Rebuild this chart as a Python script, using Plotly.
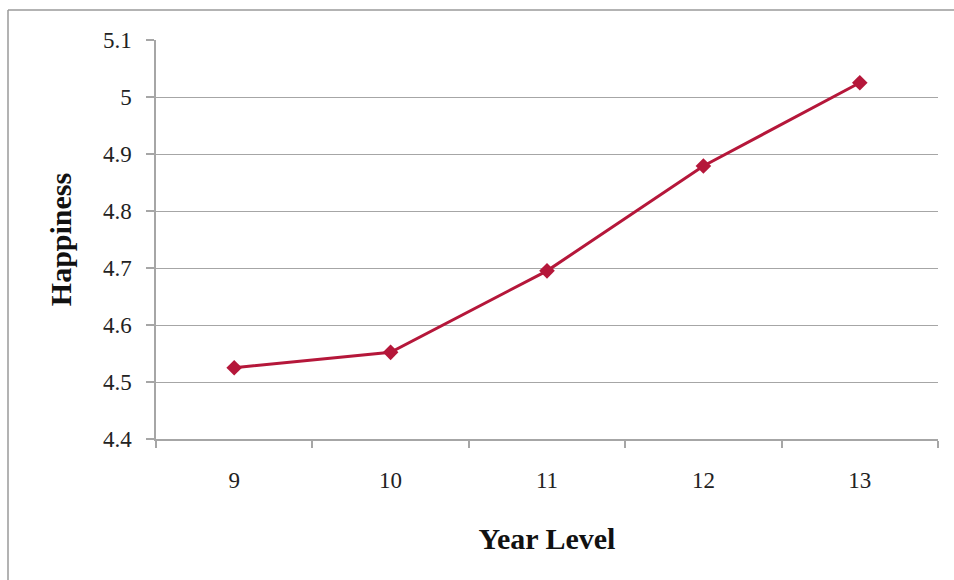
import plotly.graph_objects as go

years = ["9", "10", "11", "12", "13"]
happiness = [4.525, 4.552, 4.695, 4.879, 5.025]
y_ticks = [4.4, 4.5, 4.6, 4.7, 4.8, 4.9, 5.0, 5.1]
y_tick_labels = ["4.4", "4.5", "4.6", "4.7", "4.8", "4.9", "5", "5.1"]

W, H = 954, 580
L, R, T, B = 156, 938, 40, 439

fig = go.Figure()
fig.add_trace(go.Scatter(
    x=years, y=happiness, mode="lines+markers",
    line=dict(color="#B5173A", width=3),
    marker=dict(symbol="diamond", size=12, color="#B5173A"),
    showlegend=False,
))

font_family = "Liberation Serif"
grey = "#A6A6A6"

def px_x(p):
    return (p - L) / (R - L)

def px_y(p):
    return (B - p) / (B - T)

fig.update_layout(
    width=W, height=H,
    margin=dict(l=L, r=W - R, t=T, b=H - B),
    paper_bgcolor="white", plot_bgcolor="white",
    font=dict(family=font_family, size=23, color="#222222"),
    xaxis=dict(
        type="category",
        range=[-0.5, 4.5],
        showline=True, linecolor=grey, linewidth=1.5,
        ticks="outside", tickson="boundaries", ticklen=7, tickcolor=grey, tickwidth=1.5,
        showgrid=False,
        title=dict(text="<b>Year Level</b>", font=dict(size=30, family=font_family, color="#111111"), standoff=36),
        ticklabelstandoff=20,
    ),
    yaxis=dict(
        range=[4.4, 5.1],
        tickvals=y_ticks, ticktext=y_tick_labels,
        showline=True, linecolor=grey, linewidth=1.5,
        ticks="outside", ticklen=8, tickcolor=grey, tickwidth=1.5,
        showgrid=True, gridcolor=grey, gridwidth=1.2,
        zeroline=False,
        title=dict(text="<b>Happiness</b>", font=dict(size=30, family=font_family, color="#111111"), standoff=22),
        ticklabelstandoff=10,
    ),
    shapes=[
        dict(type="line", xref="paper", yref="paper",
             x0=px_x(8), y0=px_y(H + 5), x1=px_x(8), y1=px_y(10),
             line=dict(color="#9A9A9A", width=1.5)),
        dict(type="line", xref="paper", yref="paper",
             x0=px_x(8), y0=px_y(10), x1=px_x(W + 5), y1=px_y(10),
             line=dict(color="#9A9A9A", width=1.5)),
    ],
)

fig.write_html("out.html")
